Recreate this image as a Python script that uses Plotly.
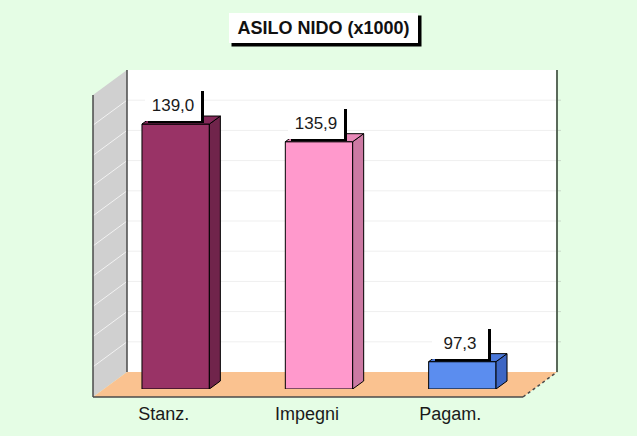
import plotly.graph_objects as go

# ---------------- data ----------------
categories = ["Stanz.", "Impegni", "Pagam."]
values = [139.0, 135.9, 97.3]
value_labels = ["139,0", "135,9", "97,3"]
title_text = "ASILO NIDO (x1000)"
axis_min = 92.5
axis_max = 145.5
grid_values = [97.8, 103.1, 108.4, 113.7, 119.0, 124.3, 129.6, 134.9, 140.2]

# ---------------- styles ----------------
front_colors = ["#993366", "#FF99CC", "#5B8DEF"]
side_colors = ["#70244B", "#CC79A3", "#3D66C4"]
top_colors = ["#85295A", "#E888B8", "#4A78DA"]
BG = "#E5FDE5"
FLOOR = "#FAC290"
WALL = "#D0D0D0"
FONT = "Liberation Sans, Arial, sans-serif"

W, H = 637, 436
ML, MR, MT, MB = 104, 103, 87, 47
PW = W - ML - MR
PH = H - MT - MB
X_RANGE = [-0.5, 2.5]
BAR_W = 0.47
BAR_DX, BAR_DY = 11, 8        # bar depth in pixels
FRONT_DX, FRONT_DY = -11, 8   # floor front edge offset from bar plane
BACK_DX, BACK_DY = 23, -17    # back wall offset from bar plane

ux = PW / (X_RANGE[1] - X_RANGE[0])
uy = PH / (axis_max - axis_min)
ddx = BAR_DX / ux
ddy = BAR_DY / uy


def pyy(v):
    return MT + (axis_max - v) * uy


def ppx(px):
    return (px - ML) / PW


def ppy(py):
    return (H - MB - py) / PH


def path(points):
    return "M " + " L ".join(f"{ppx(a):.5f},{ppy(b):.5f}" for a, b in points) + " Z"


L0, R0 = ML, ML + PW
T0, B0 = MT, H - MB

shapes = []
# back wall
shapes.append(dict(type="rect", xref="paper", yref="paper", layer="below",
                   x0=ppx(L0 + BACK_DX), x1=ppx(R0 + BACK_DX),
                   y0=ppy(B0 + BACK_DY), y1=ppy(T0 + BACK_DY),
                   fillcolor="white", line=dict(width=0)))
# gridlines on back wall
for g in grid_values:
    y = pyy(g) + BACK_DY
    shapes.append(dict(type="line", xref="paper", yref="paper", layer="below",
                       x0=ppx(L0 + BACK_DX), x1=ppx(R0 + BACK_DX), y0=ppy(y), y1=ppy(y),
                       line=dict(color="#EFEFEF", width=1)))
    shapes.append(dict(type="line", xref="paper", yref="paper", layer="below",
                       x0=ppx(R0 + BACK_DX), x1=ppx(R0 + BACK_DX + 4), y0=ppy(y), y1=ppy(y),
                       line=dict(color="#C8D8C8", width=1)))
# left wall
shapes.append(dict(type="path", xref="paper", yref="paper", layer="below",
                   path=path([(L0 + FRONT_DX, T0 + FRONT_DY), (L0 + BACK_DX, T0 + BACK_DY),
                              (L0 + BACK_DX, B0 + BACK_DY), (L0 + FRONT_DX, B0 + FRONT_DY)]),
                   fillcolor=WALL, line=dict(width=0)))
for g in grid_values:
    y = pyy(g)
    shapes.append(dict(type="line", xref="paper", yref="paper", layer="below",
                       x0=ppx(L0 + FRONT_DX), y0=ppy(y + FRONT_DY),
                       x1=ppx(L0 + BACK_DX), y1=ppy(y + BACK_DY),
                       line=dict(color="#F2F2F2", width=1)))
# floor
shapes.append(dict(type="path", xref="paper", yref="paper", layer="below",
                   path=path([(L0 + FRONT_DX, B0 + FRONT_DY), (L0 + BACK_DX, B0 + BACK_DY),
                              (R0 + BACK_DX, B0 + BACK_DY), (R0 + FRONT_DX, B0 + FRONT_DY)]),
                   fillcolor=FLOOR, line=dict(width=0)))
# edges
edge = dict(color="#4A4A4A", width=1.5)
shapes += [
    dict(type="line", xref="paper", yref="paper", layer="below",
         x0=ppx(L0 + BACK_DX), x1=ppx(L0 + BACK_DX), y0=ppy(T0 + BACK_DY), y1=ppy(B0 + BACK_DY), line=edge),
    dict(type="line", xref="paper", yref="paper", layer="below",
         x0=ppx(R0 + BACK_DX), x1=ppx(R0 + BACK_DX), y0=ppy(T0 + BACK_DY), y1=ppy(B0 + BACK_DY),
         line=dict(color="#5A6A5A", width=2)),
    dict(type="line", xref="paper", yref="paper", layer="below",
         x0=ppx(L0 + FRONT_DX), x1=ppx(L0 + FRONT_DX), y0=ppy(T0 + FRONT_DY), y1=ppy(B0 + FRONT_DY), line=edge),
    dict(type="line", xref="paper", yref="paper", layer="below",
         x0=ppx(L0 + FRONT_DX), x1=ppx(R0 + FRONT_DX), y0=ppy(B0 + FRONT_DY), y1=ppy(B0 + FRONT_DY), line=edge),
    dict(type="line", xref="paper", yref="paper", layer="below",
         x0=ppx(R0 + FRONT_DX), x1=ppx(R0 + BACK_DX), y0=ppy(B0 + FRONT_DY), y1=ppy(B0 + BACK_DY),
         line=dict(color="#4A4A4A", width=1.5, dash="dot")),
]

fig = go.Figure()

# side and top faces of the bars (computed from the values)
for i, v in enumerate(values):
    xr = i + BAR_W / 2
    xl = i - BAR_W / 2
    fig.add_trace(go.Scatter(
        x=[xr, xr + ddx, xr + ddx, xr, xr],
        y=[axis_min, axis_min + ddy, v + ddy, v, axis_min],
        fill="toself", fillcolor=side_colors[i], mode="lines",
        line=dict(color="black", width=1), hoverinfo="skip", showlegend=False))
    fig.add_trace(go.Scatter(
        x=[xl, xr, xr + ddx, xl + ddx, xl],
        y=[v, v, v + ddy, v + ddy, v],
        fill="toself", fillcolor=top_colors[i], mode="lines",
        line=dict(color="black", width=1), hoverinfo="skip", showlegend=False))

fig.add_trace(go.Bar(
    x=list(range(len(categories))), y=[v - axis_min for v in values], base=axis_min,
    width=BAR_W, marker=dict(color=front_colors, line=dict(color="black", width=1)),
    showlegend=False, hoverinfo="skip"))

annotations = []
for i, (v, t) in enumerate(zip(values, value_labels)):
    common = dict(x=i - BAR_W / 2, y=v, xref="x", yref="y", xanchor="left", yanchor="bottom",
                  showarrow=False, borderpad=5, borderwidth=0, width=46, height=22)
    annotations.append(dict(common, text=" ", xshift=6, yshift=1, bgcolor="black",
                            font=dict(family=FONT, size=17, color="black")))
    annotations.append(dict(common, text=t, xshift=3, yshift=3, bgcolor="white",
                            font=dict(family=FONT, size=17, color="#1A1A1A")))

tcommon = dict(x=ppx(323.5), y=ppy(28), xref="paper", yref="paper", xanchor="center", yanchor="middle",
               showarrow=False, width=181, height=22, borderpad=4)
annotations.append(dict(tcommon, text=" ", xshift=3, yshift=-3, bgcolor="black",
                        font=dict(family=FONT, size=18, color="black")))
annotations.append(dict(tcommon, text="<b>" + title_text + "</b>", bgcolor="white", borderwidth=0,
                        font=dict(family=FONT, size=18, color="#111111")))

fig.update_layout(
    width=W, height=H, margin=dict(l=ML, r=MR, t=MT, b=MB, pad=0),
    paper_bgcolor=BG, plot_bgcolor="rgba(0,0,0,0)",
    shapes=shapes, annotations=annotations, showlegend=False,
    xaxis=dict(range=X_RANGE, tickvals=list(range(len(categories))), ticktext=categories,
               showgrid=False, zeroline=False, showline=False, ticks="",
               tickfont=dict(family=FONT, size=18, color="#1A1A1A"),
               ticklabelshift=-12, ticklabelstandoff=12, fixedrange=True),
    yaxis=dict(range=[axis_min, axis_max], showgrid=False, zeroline=False, showline=False,
               showticklabels=False, ticks="", fixedrange=True),
)

fig.write_html(
    "out.html",
    config={"displayModeBar": False},
    post_script=f"document.body.style.margin='0';document.body.style.background='{BG}';",
)
